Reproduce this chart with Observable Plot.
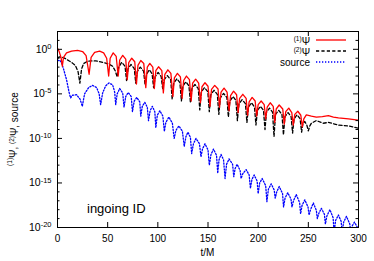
<!DOCTYPE html>
<html><head><meta charset="utf-8">
<script src="https://cdn.jsdelivr.net/npm/d3@7"></script>
<script src="https://cdn.jsdelivr.net/npm/@observablehq/plot@0.6"></script>
<style>
body{margin:0;background:#fff}
svg{font-family:"Liberation Sans",Arial,Helvetica,sans-serif}
</style>
</head><body><div id="chart"></div>
<script>
// [t/M, log10 value]
const psi1 = [[0,0.12],[1.5,-0.2],[3.5,-0.9],[4.8,-1.9],[6,-0.9],[9,-0.4],[14,-0.2],[20,-0.12],[25,-0.25],[28.5,-0.7],[31.5,-2.8],[33.5,-0.9],[37,-0.35],[42,-0.2],[46,-0.4],[49,-1.0],[51,-3.0],[52.5,-1.0],[55.5,-0.4],[58.5,-0.8],[60.5,-3.0],[62,-1.2],[65,-0.68],[68,-1.1],[69.5,-3.4],[71,-1.5],[74,-1.0],[77,-1.4],[78.7,-3.9],[80.2,-1.8],[83,-1.25],[86,-1.6],[88,-4.3],[89.5,-2.0],[92,-1.58],[95,-2.0],[96.5,-4.4],[98,-2.4],[100.7,-1.96],[104,-2.4],[105.5,-4.9],[107,-2.8],[110,-2.3],[113,-2.7],[115,-5.3],[116.5,-3.2],[119.5,-2.7],[122.5,-3.1],[124.2,-5.5],[125.7,-3.5],[128.5,-3.0],[131.5,-3.4],[133.2,-5.8],[134.7,-3.8],[137.7,-3.35],[140.7,-3.8],[142.5,-6.0],[144,-4.2],[147,-3.75],[150,-4.15],[152,-6.4],[153.5,-4.5],[156.7,-4.05],[160,-4.45],[161.5,-6.5],[163,-4.8],[166,-4.35],[169,-4.8],[171,-6.9],[172.5,-5.2],[175.5,-4.7],[178.5,-5.1],[180,-7.1],[181.5,-5.5],[184.7,-5.05],[188,-5.5],[189.5,-7.4],[191,-5.9],[194,-5.4],[197,-5.8],[198.5,-7.5],[200,-6.2],[203,-5.8],[206,-6.2],[207.5,-7.8],[209,-6.5],[212,-6.0],[215,-6.4],[216.5,-8.2],[218,-6.7],[221,-6.25],[224.5,-6.7],[226,-8.4],[227.5,-7.0],[230.5,-6.6],[233.5,-7.1],[235,-8.5],[236.5,-7.3],[239.5,-6.95],[242.5,-7.4],[244,-8.7],[245.5,-7.8],[248,-7.35],[253,-7.5],[258,-7.6],[264,-7.55],[270,-7.45],[275,-7.6],[280,-7.7],[290,-7.8],[300,-7.95]];

const psi2 = [[0,-0.95],[2,-0.85],[5,-0.9],[8,-1.05],[11.3,-1.28],[15,-1.55],[18,-1.85],[20.5,-2.5],[22.3,-3.8],[24,-2.2],[26,-1.6],[29.7,-1.35],[34,-1.3],[38,-1.3],[43,-1.4],[48,-1.55],[52,-1.7],[55,-1.9],[57.5,-2.4],[59.5,-3.1],[61,-2.0],[64,-1.45],[67.3,-1.9],[68.8,-3.5],[70.3,-2.2],[73.3,-1.7],[76.5,-2.15],[78,-3.8],[79.5,-2.5],[82.5,-2.0],[85.8,-2.45],[87.3,-4.0],[88.8,-2.8],[91.5,-2.3],[94.3,-2.75],[95.8,-4.3],[97.3,-3.1],[100.3,-2.6],[103.3,-3.05],[104.8,-4.4],[106.3,-3.4],[109.5,-2.95],[112.8,-3.4],[114.3,-5.6],[115.8,-3.8],[119,-3.3],[122,-3.75],[123.5,-5.8],[125,-4.1],[128,-3.65],[131,-4.1],[132.5,-6.0],[134,-4.4],[137,-3.95],[140.3,-4.4],[141.8,-6.8],[143.3,-4.8],[146.5,-4.3],[149.8,-4.75],[151.3,-7.0],[152.8,-5.1],[156,-4.6],[159.3,-5.05],[160.8,-7.3],[162.3,-5.45],[165.5,-4.95],[168.8,-5.4],[170.3,-7.6],[171.8,-5.8],[175,-5.3],[177.8,-5.75],[179.3,-8.0],[180.8,-6.15],[184,-5.65],[187.3,-6.1],[188.8,-8.2],[190.3,-6.5],[193.3,-6.0],[196.3,-6.45],[197.8,-8.5],[199.3,-6.85],[202.3,-6.4],[205.3,-6.85],[206.8,-9.0],[208.3,-7.05],[211.3,-6.6],[214.3,-7.05],[215.8,-9.8],[217.3,-7.3],[220.5,-6.85],[223.7,-7.3],[225.2,-9.6],[226.7,-7.55],[229.8,-7.1],[232.8,-7.55],[234.3,-9.4],[235.8,-7.8],[238.8,-7.35],[241.8,-7.8],[243.3,-9.3],[244.5,-8.4],[246.5,-8.1],[248.5,-8.5],[250,-9.15],[251.5,-8.6],[253,-8.3],[258,-8.0],[265,-8.3],[270,-8.2],[280,-8.5],[290,-8.6],[300,-8.85]];

const source = [[0,-1.3],[2,-1.2],[4,-1.5],[6,-2.2],[9,-3.4],[11.5,-4.8],[13,-5.45],[15,-5.15],[19,-5.1],[22.5,-5.6],[24.7,-6.4],[27,-5.0],[31,-4.3],[35,-4.05],[39,-4.3],[41.5,-5.0],[43,-6.2],[45,-4.9],[48,-4.1],[51.3,-3.77],[55,-4.0],[57,-4.8],[58,-6.2],[59.5,-5.0],[62,-4.4],[65,-4.9],[66.3,-6.5],[68,-5.3],[70.5,-4.85],[73.5,-5.3],[74.7,-7.0],[76.5,-5.8],[79,-5.4],[82,-5.9],[83,-7.5],[84.5,-6.4],[87,-5.95],[89.5,-6.5],[90.7,-8.0],[92.3,-6.9],[94.5,-6.4],[97,-7.0],[98,-8.8],[99.5,-7.4],[102,-6.9],[105,-7.5],[106.5,-9.2],[108,-8.2],[111,-7.6],[114.5,-8.3],[116.3,-10.0],[118,-9.1],[121,-8.6],[124.5,-9.2],[126.3,-10.9],[128,-9.8],[130,-9.3],[132.5,-9.9],[133.7,-11.7],[135.5,-10.6],[138,-10.0],[141.5,-10.6],[143,-12.05],[144.5,-11.2],[147,-10.6],[150,-11.3],[151.3,-13.0],[153,-11.8],[155.5,-11.2],[158.5,-11.9],[159.7,-13.9],[161,-12.4],[163,-11.8],[165.5,-12.4],[167,-14.5],[168.5,-12.9],[171,-12.3],[174.5,-12.9],[175.7,-14.3],[177,-13.4],[179,-12.9],[182,-13.6],[183,-14.5],[184.5,-14.0],[188,-13.5],[191,-14.1],[192.3,-15.6],[193.8,-14.6],[196,-14.1],[199,-14.8],[200,-16.2],[201.5,-15.0],[204,-14.5],[207.5,-15.3],[208.7,-17.1],[210.2,-15.7],[213,-15.1],[216,-15.8],[217,-16.7],[218.5,-16.0],[221,-15.4],[224.3,-16.2],[225.3,-17.7],[226.8,-16.7],[229.5,-16.1],[232.7,-16.8],[233.7,-17.7],[235.2,-17.0],[238,-16.3],[241.3,-17.2],[242.3,-18.45],[243.8,-17.5],[246.5,-16.9],[249.7,-17.7],[250.7,-18.6],[252.2,-18.0],[255,-17.25],[258,-18.1],[259,-19.0],[260.5,-18.4],[263,-17.85],[266,-18.5],[267,-19.6],[268.5,-18.7],[271.5,-18.0],[274.7,-18.9],[275.7,-20.5],[277.2,-19.2],[280,-18.6],[282.7,-19.3],[283.7,-20.5],[285.2,-19.4],[288,-18.75],[291.3,-19.6],[292.3,-20.5],[293.8,-19.8],[296,-19.4],[298.5,-19.9],[300,-20.3]];

const xTicks = [0, 50, 100, 150, 200, 250, 300];
const yMajorExp = [0, -5, -10, -15, -20];
const yMinorExp = [2, 1, -1, -2, -3, -4, -6, -7, -8, -9, -11, -12, -13, -14, -16, -17, -18, -19];
const seriesColors = ["#ff0000", "#000000", "#0000ff"];
const seriesDash = [null, "3.2,2.2", "1.3,1.7"];

const toRows = (arr, s) => arr.map(([t, e]) => ({t, v: Math.pow(10, e), s}));
const rows1 = toRows(psi1, "psi1"), rows2 = toRows(psi2, "psi2"), rows3 = toRows(source, "source");

const W = 374, H = 261, mL = 57, mR = 16, mT = 31, mB = 34;
const innerW = W - mL - mR, innerH = H - mT - mB;
const yMaj = yMajorExp.map(e => Math.pow(10, e));
const yMin = yMinorExp.map(e => Math.pow(10, e));

const chart = Plot.plot({
  width: W, height: H,
  marginLeft: mL, marginRight: mR, marginTop: mT, marginBottom: mB,
  style: {fontFamily: '"Liberation Sans", Arial, sans-serif', fontSize: "10px", background: "#fff"},
  x: {domain: [0, 300]},
  y: {type: "log", domain: [1e-20, 1e2]},
  marks: [
    Plot.line(rows3, {x: "t", y: "v", stroke: seriesColors[2], strokeWidth: 1.3, strokeDasharray: seriesDash[2], clip: true}),
    Plot.line(rows2, {x: "t", y: "v", stroke: seriesColors[1], strokeWidth: 1.3, strokeDasharray: seriesDash[1], clip: true}),
    Plot.line(rows1, {x: "t", y: "v", stroke: seriesColors[0], strokeWidth: 1.3, clip: true}),
    // inward ticks (gnuplot style)
    Plot.tickX(xTicks, {x: d => d, insetTop: innerH - 5, stroke: "#000"}),
    Plot.tickX(xTicks, {x: d => d, insetBottom: innerH - 5, stroke: "#000"}),
    Plot.tickY(yMaj, {y: d => d, insetRight: innerW - 5, stroke: "#000"}),
    Plot.tickY(yMaj, {y: d => d, insetLeft: innerW - 5, stroke: "#000"}),
    Plot.tickY(yMin, {y: d => d, insetRight: innerW - 2.5, stroke: "#000"}),
    Plot.tickY(yMin, {y: d => d, insetLeft: innerW - 2.5, stroke: "#000"}),
    Plot.axisX(xTicks, {tickSize: 0, tickPadding: 7, label: null, fontSize: 10}),
    Plot.axisY(yMaj, {tickSize: 0, tickPadding: 6, label: null, fontSize: 10.5,
      tickFormat: d => String(Math.round(Math.log10(d)))}),
    Plot.frame({stroke: "#000", strokeWidth: 1})
  ]
});
document.getElementById("chart").appendChild(chart);

const svg = d3.select(chart);
// superscript exponent labels: 10^e
svg.selectAll('g[aria-label="y-axis tick label"] text').each(function() {
  const e = this.textContent.trim();
  const t = d3.select(this);
  t.text(null);
  t.append("tspan").text("10");
  t.append("tspan").attr("dy", "-0.5em").attr("font-size", "7.5px").text(e);
});

const xs = chart.scale("x");
// x label
svg.append("text").attr("x", (xs.apply(0) + xs.apply(300)) / 2).attr("y", 256)
  .attr("text-anchor", "middle").attr("font-size", 10).attr("fill", "#000").text("t/M");
// y label, rotated
const yl = svg.append("text").attr("transform", `translate(15,${(mT + H - mB) / 2}) rotate(-90)`)
  .attr("text-anchor", "middle").attr("font-size", 10).attr("fill", "#000");
yl.append("tspan").attr("font-size", 6.5).attr("dy", "-0.45em").text("(1)");
yl.append("tspan").attr("dy", "0.45em").text("Ψ, ");
yl.append("tspan").attr("font-size", 6.5).attr("dy", "-0.45em").text("(2)");
yl.append("tspan").attr("dy", "0.45em").text("Ψ, source");
// annotation
svg.append("text").attr("x", mL + 30).attr("y", 213).attr("text-anchor", "start")
  .attr("font-size", 13).attr("fill", "#000").text("ingoing ID");

// legend
const legRows = [
  {sup: "(1)", main: "Ψ"},
  {sup: "(2)", main: "Ψ"},
  {sup: "", main: "source"}
];
const legX = W - mR - 48, legY0 = mT + 9, legDy = 11;
legRows.forEach((r, i) => {
  const y = legY0 + i * legDy;
  const tx = svg.append("text").attr("x", legX).attr("y", y + 3.5).attr("text-anchor", "end")
    .attr("font-size", 10).attr("fill", "#000");
  if (r.sup) {
    tx.append("tspan").attr("font-size", 6.5).attr("dy", "-0.4em").text(r.sup);
    tx.append("tspan").attr("dy", "0.4em").text(r.main);
  } else {
    tx.append("tspan").text(r.main);
  }
  svg.append("line").attr("x1", legX + 6).attr("x2", legX + 36).attr("y1", y).attr("y2", y)
    .attr("stroke", seriesColors[i]).attr("stroke-width", 1.3)
    .attr("stroke-dasharray", seriesDash[i]);
});
</script>
</body></html>
